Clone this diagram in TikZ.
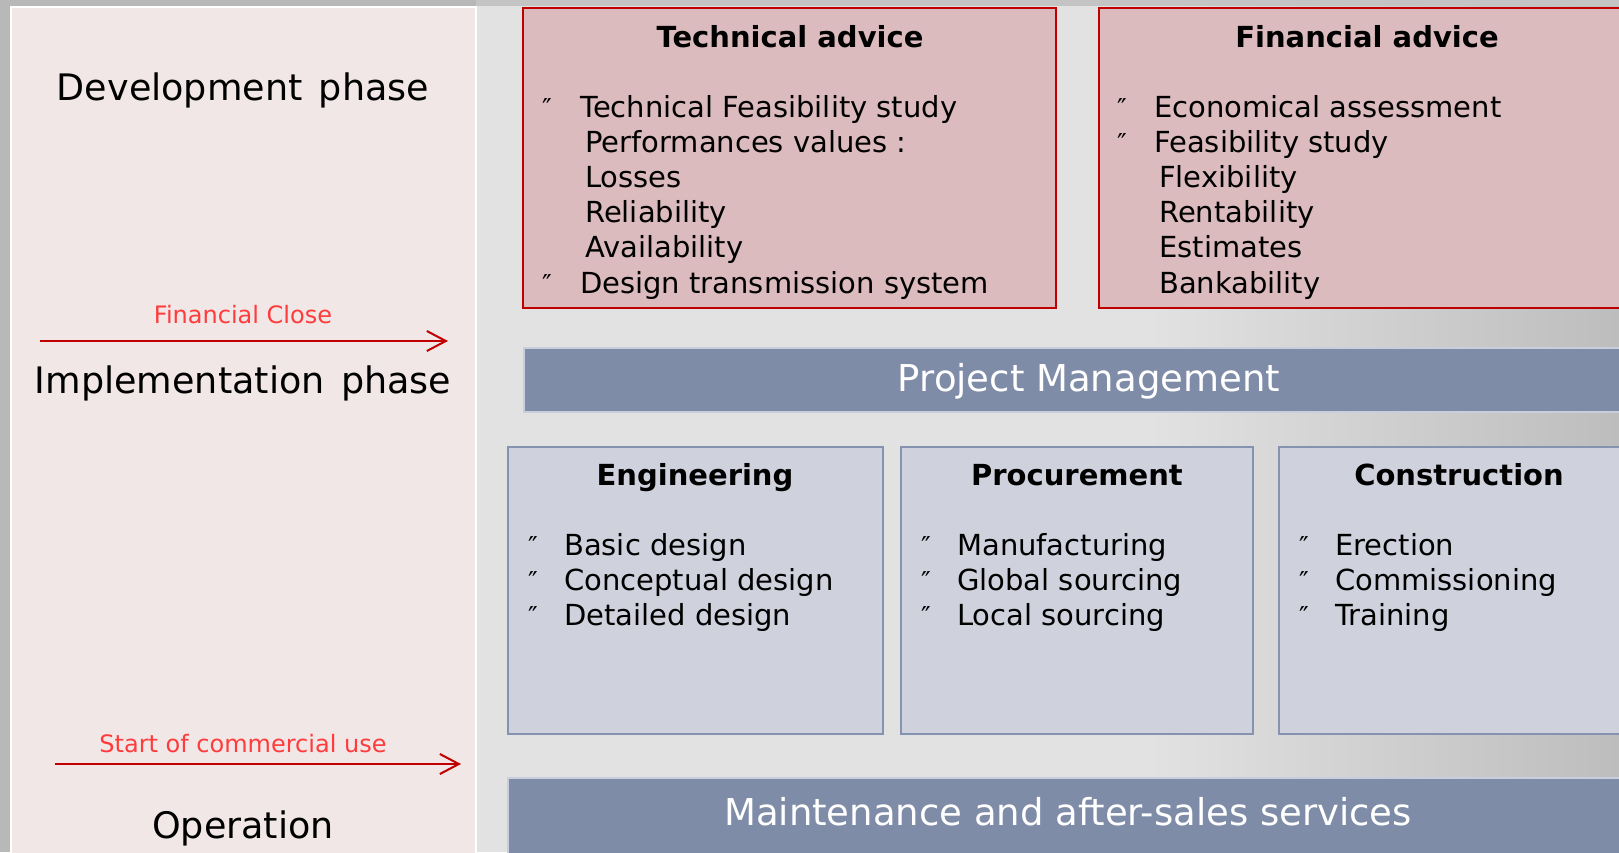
\documentclass[tikz,border=0pt]{standalone}
\usepackage{fontspec}
\setmainfont{DejaVu Sans}
\usetikzlibrary{arrows.meta}
\definecolor{panel}{HTML}{F2E7E7}
\definecolor{redfill}{HTML}{DBBBBD}
\definecolor{redline}{HTML}{C00000}
\definecolor{bluefill}{HTML}{CFD1DD}
\definecolor{blueline}{HTML}{8593B0}
\definecolor{barfill}{HTML}{7F8CA8}
\definecolor{barline}{HTML}{C9CEDF}
\definecolor{labred}{HTML}{FF3B3B}
\definecolor{bgA}{HTML}{E2E2E2}
\definecolor{bgB}{HTML}{BDBDBD}
\definecolor{bgC}{HTML}{B8B8B8}
\tikzset{
 body/.style={font=\fontsize{29}{35}\selectfont, anchor=base west, inner sep=0pt},
 ttl/.style={font=\bfseries\fontsize{29}{35}\selectfont, anchor=base, inner sep=0pt},
 bul/.style={font=\fontsize{26}{28}\selectfont, anchor=base west, inner sep=0pt},
 phase/.style={font=\fontsize{36.5}{40}\selectfont, anchor=base, inner sep=0pt},
 milestone/.style={font=\fontsize{24}{28}\selectfont, text=labred, anchor=base, inner sep=0pt},
 bartext/.style={font=\fontsize{37}{40}\selectfont, text=white, anchor=base, inner sep=0pt},
 arr/.style={draw=redline, line width=2pt, -{Straight Barb[length=19pt,width=20pt,line width=2pt]}},
 redbox/.style={fill=redfill, draw=redline, line width=2.5pt},
 bluebox/.style={fill=bluefill, draw=blueline, line width=2pt},
 bar/.style={fill=barfill, draw=barline, line width=2pt},
}
\newcommand{\wsp}{\hspace{0.45em}}
\begin{document}
\begin{tikzpicture}[x=1pt,y=-1pt]
\useasboundingbox (0,0) rectangle (1619,852);
\clip (0,0) rectangle (1619,852);
% background
\fill[bgC] (0,0) rectangle (1619,852);
\fill[bgA] (476,0) rectangle (1150,852);
\shade[left color=bgA, right color=bgB] (1149,0) rectangle (1619,852);
\fill[bgB!80!bgA] (476,0) rectangle (1619,6);
% left panel
\fill[panel] (11,7) rectangle (476,870);
\draw[white, line width=1.5pt] (11,870) -- (11,7) -- (476,7) -- (476,870);
\node[phase] (dev) at (243,100) {Development\wsp phase};
\node[milestone] (fclose) at (243,323) {Financial Close};
\coordinate (fa1) at (40,341);
\coordinate (fa2) at (448,341);
\draw[arr] (fa1) -- (fa2);
\node[phase] (impl) at (243,393) {Implementation\wsp phase};
\node[milestone] (scu) at (243,752) {Start of commercial use};
\coordinate (sa1) at (55,764);
\coordinate (sa2) at (461,764);
\draw[arr] (sa1) -- (sa2);
\node[phase] (oper) at (243,838) {Operation};
% technical advice
\draw[redbox] (523,8) rectangle (1056,308);
\node[ttl] (tat) at (790,47) {Technical advice};
\node[bul] (tab1) at (542,117) {″};
\node[body] (ta1) at (580,117) {Technical Feasibility study};
\node[body] (ta2) at (585,152) {Performances values :};
\node[body] (ta3) at (585,187) {Losses};
\node[body] (ta4) at (585,222) {Reliability};
\node[body] (ta5) at (585,257) {Availability};
\node[bul] (tab6) at (542,293) {″};
\node[body] (ta6) at (580,293) {Design transmission system};
% financial advice
\draw[redbox] (1099,8) rectangle (1650,308);
\node[ttl] (fat) at (1367,47) {Financial advice};
\node[bul] (fab1) at (1117,117) {″};
\node[body] (fa1t) at (1154,117) {Economical assessment};
\node[bul] (fab2) at (1117,152) {″};
\node[body] (fa2t) at (1154,152) {Feasibility study};
\node[body] (fa3t) at (1159,187) {Flexibility};
\node[body] (fa4t) at (1159,222) {Rentability};
\node[body] (fa5t) at (1159,257) {Estimates};
\node[body] (fa6t) at (1159,293) {Bankability};
% project management
\draw[bar] (524,348) rectangle (1650,412);
\node[bartext] (pm) at (1089,391) {Project Management};
% engineering
\draw[bluebox] (508,447) rectangle (883,734);
\node[ttl] (engt) at (695,485) {Engineering};
\node[bul] (engb1) at (528,555) {″};
\node[body] (eng1) at (564,555) {Basic design};
\node[bul] (engb2) at (528,590) {″};
\node[body] (eng2) at (564,590) {Conceptual design};
\node[bul] (engb3) at (528,625) {″};
\node[body] (eng3) at (564,625) {Detailed design};
% procurement
\draw[bluebox] (901,447) rectangle (1253,734);
\node[ttl] (prot) at (1077,485) {Procurement};
\node[bul] (prob1) at (921,555) {″};
\node[body] (pro1) at (957,555) {Manufacturing};
\node[bul] (prob2) at (921,590) {″};
\node[body] (pro2) at (957,590) {Global sourcing};
\node[bul] (prob3) at (921,625) {″};
\node[body] (pro3) at (957,625) {Local sourcing};
% construction
\draw[bluebox] (1279,447) rectangle (1650,734);
\node[ttl] (cont) at (1459,485) {Construction};
\node[bul] (conb1) at (1299,555) {″};
\node[body] (con1) at (1335,555) {Erection};
\node[bul] (conb2) at (1299,590) {″};
\node[body] (con2) at (1335,590) {Commissioning};
\node[bul] (conb3) at (1299,625) {″};
\node[body] (con3) at (1335,625) {Training};
% maintenance
\draw[bar] (508,778) rectangle (1650,870);
\node[bartext] (mnt) at (1068,825) {Maintenance and after-sales services};
\end{tikzpicture}
\end{document}
